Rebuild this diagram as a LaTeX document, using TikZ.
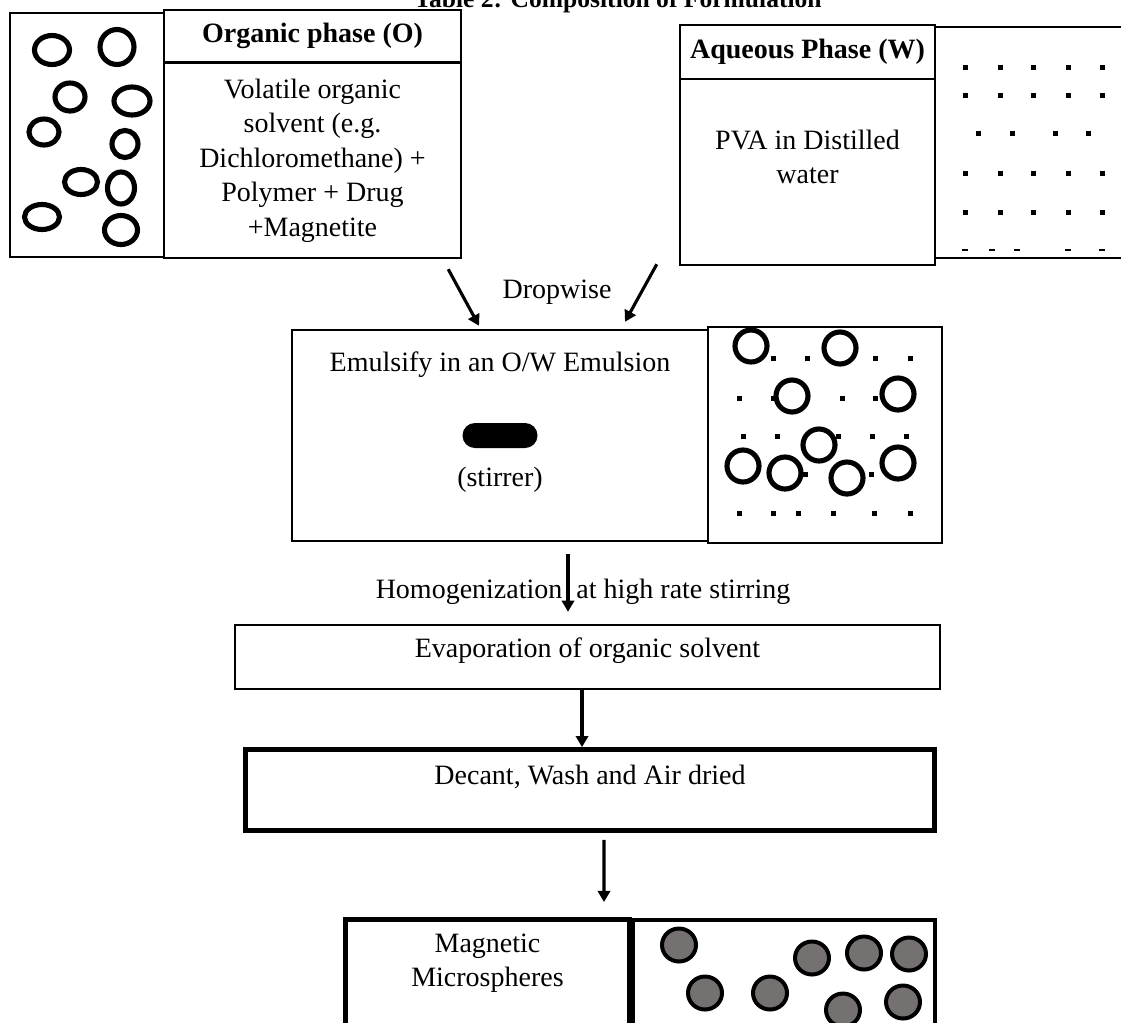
\documentclass[tikz,border=0pt]{standalone}
\usepackage{fontspec}
\setmainfont{Liberation Serif}
\usetikzlibrary{arrows.meta,positioning,calc}

\definecolor{beadgray}{RGB}{118,113,113}
\newcommand{\pu}{0.45pt}
\newcommand{\flowfont}{\fontsize{12.6pt}{15.5pt}\selectfont}

\tikzset{
	box/.style={draw,line width=1.1pt,inner sep=0pt,align=center},
	heavybox/.style={box,line width=2.2pt},
	head/.style={font=\flowfont\bfseries},
	drop/.style={line width=2.3pt},
	bead/.style={draw,line width=1.8pt,fill=beadgray},
	flow/.style={line width=1.4pt,-{Triangle[length=5pt,width=5.5pt]}}
}

\begin{document}
\begin{tikzpicture} [x=\pu,y=-\pu,every node/.style={font=\flowfont}]
			\useasboundingbox (0,0) rectangle (1121,1022);
			\node [font=\fontsize{11.5pt}{14pt}\selectfont\bfseries,anchor=base] (title) at (618,7) {Table 2: Composition of Formulation};
			\node [box,minimum width={154*\pu},minimum height={244*\pu}] (orgdrops) at (87,135) {};
			\node [box,head,minimum width={297*\pu},minimum height={52*\pu}] (orghead) at (312.5,36) {Organic phase (O)};
			\node [box,minimum width={297*\pu},minimum height={195*\pu}] (orgbody) at (312.5,160.5) {Volatile organic\\solvent (e.g.\\Dichloromethane) +\\Polymer + Drug\\+Magnetite};
			\node [box,head,minimum width={255*\pu},minimum height={54*\pu}] (aqhead) at (807.5,52) {Aqueous Phase (W)};
			\node [box,minimum width={255*\pu},text height=47pt,text depth=36.7pt] (aqbody) at (807.5,172) {PVA in Distilled\\water};
			\node [box,minimum width={215*\pu},minimum height={231*\pu}] (aqdots) at (1042.5,142.5) {};
			\node [box,minimum width={416*\pu},text height=18.5pt,text depth=76.45pt] (emul) at (500,435.5) {Emulsify in an O/W Emulsion};
			\node [fill,rounded corners=5.6pt,minimum width={75*\pu},minimum height={25*\pu},inner sep=0pt] (stirbar) at (500,435.5) {};
			\node [below=5pt of stirbar] (stirlbl) {(stirrer)};
			\node [box,minimum width={234*\pu},minimum height={216*\pu}] (emdots) at (825,435) {};
			\node (dropw) at (557,292) {Dropwise};
			\node (homog) at (583,592) {Homogenization\ \ at high rate stirring};
			\node [box,minimum width={705*\pu},text height=14.4pt,text depth=14.4pt] (evap) at (587.5,657) {Evaporation of organic solvent};
			\node [heavybox,minimum width={689*\pu},text height=15.5pt,text depth=20.9pt] (decant) at (590,790) {Decant, Wash and Air dried};
			\node [heavybox,minimum width={284*\pu},text height=30.2pt,text depth=26.3pt] (magnet) at (487.5,982.25) {Magnetic\\Microspheres};
			\node [box,line width=1.8pt,minimum width={302*\pu},minimum height={125*\pu}] (magdots) at (784,982.5) {};
			\foreach \x/\y/\a/\b in {52/50/17.5/14.5,117/47/17/17.5,70/97/15/14,132/101/18/14,44/132/15/13,125/144/13/13.5,81/182/16.5/12.5,121/188/13.5/16,42/217/17.5/12.5,121/230/16.5/14.5}
				\draw [drop] (\x,\y) ellipse [x radius=\a,y radius=\b];
			\foreach \y in {67,95,173,212}
				\foreach \x in {965,1000,1033,1068,1102}
					\fill (\x-2,\y-2) rectangle ++(4.5,4.5);
			\foreach \x in {978,1012,1055,1088}
				\fill (\x-2,131) rectangle ++(4.5,4.5);
			\foreach \x in {965,992,1017,1068,1102}
				\fill (\x-3,249) rectangle ++(6,2);
			\foreach \x/\y in {773/358,807/358,875/358,910/358,739/398,773/398,842/398,875/398,743/436,777/436,838/436,872/436,906/436,805/474,871/474,739/513,773/513,798/513,833/513,874/513,910/513}
				\fill (\x-2,\y-2) rectangle ++(4.5,4.5);
			\foreach \x/\y in {751/346,840/348,792/396,898/394,819/445,743/466,785/473,847/478,898/463}
				\draw [drop] (\x,\y) circle [radius=16];
			\foreach \x/\y in {679/945,705/993,770/993,812/958,864/953,909/954,843/1010,903/1002}
				\draw [bead] (\x,\y) ellipse [x radius=17,y radius=16.5];
			\draw [flow] ($(orgbody.south east)+(-14,10)$) -- ($(emul.north)+(-21,-3)$);
			\draw [flow] ($(aqbody.south west)+(-22,-2)$) -- ($(emul.north)+(125,-7)$);
			\draw [flow] ($(emul.south)+(68,12)$) -- ($(evap.north)+(-19.5,-12)$);
			\draw [flow] ($(evap.south)+(-5.5,0)$) -- ($(decant.north)+(-8,0)$);
			\draw [flow] ($(decant.south)+(14,7)$) -- ($(magnet.north)+(116.5,-15)$);
		\end{tikzpicture}
\end{document}
